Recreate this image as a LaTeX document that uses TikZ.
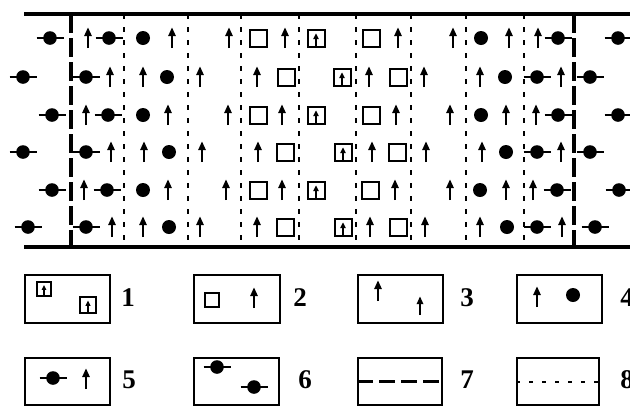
\documentclass[tikz,border=0pt]{standalone}
\usepackage{fontspec}
\setmainfont{Liberation Serif}
\begin{document}
\begin{tikzpicture}[x=1pt,y=-1pt,
  pics/uarr/.style={code={
    \draw[line width=2.3pt] (0,10) -- (0,-3);
    \fill (-3.9,-2) -- (3.9,-2) -- (0,-10.5) -- cycle;}},
  pics/pball/.style={code={\fill (0,0) circle (7pt);}},
  pics/pdumb/.style={code={
    \draw[line width=2pt] (-13.5,0) -- (13.5,0);
    \fill (0,0) circle (6.8pt);}},
  pics/psq/.style={code={\draw[line width=2pt] (-8.5,-8.5) rectangle (8.5,8.5);}},
  pics/psqa/.style={code={
    \draw[line width=2pt] (-8.5,-8.5) rectangle (8.5,8.5);
    \draw[line width=1.5pt] (0,8.5) -- (0,0);
    \fill (-2.8,1) -- (2.8,1) -- (0,-4.5) -- cycle;}},
  wall/.style={line width=4pt},
  thickdash/.style={line width=3.3pt, dash pattern=on 19pt off 5pt},
  thindot/.style={line width=2.6pt, dash pattern=on 5pt off 8pt},
  legbox/.style={draw, line width=2pt},
  leglabel/.style={font=\bfseries\fontsize{27}{27}\selectfont, anchor=center}
]
\useasboundingbox (0,0) rectangle (630,408);
\clip (0,0) rectangle (630,408);
\fill[white] (0,0) rectangle (630,408);

% walls
\draw[wall] (24,14) -- (632,14);
\draw[wall] (24,247) -- (632,247);
% boundaries
\draw[thickdash] (71,14) -- (71,247);
\draw[thickdash] (574,14) -- (574,247);
\foreach \x in {124,188,241,299,356,411,466,524}
  \draw[thindot] (\x,14) -- (\x,247);

% row 1 (y=38)
\foreach \t/\x in {pdumb/50,uarr/88,pdumb/109,pball/143,uarr/172,uarr/229,psq/258,uarr/285,psqa/316,psq/371,uarr/398,uarr/453,pball/481,uarr/509,uarr/538,pdumb/558,pdumb/618}
  \pic at (\x,38) {\t};
% row 2 (y=77)
\foreach \t/\x in {pdumb/23,pdumb/86,uarr/110,uarr/143,pball/167,uarr/200,uarr/257,psq/286,psqa/342,uarr/369,psq/398,uarr/424,uarr/480,pball/505,pdumb/537,uarr/561,pdumb/590}
  \pic at (\x,77) {\t};
% row 3 (y=115)
\foreach \t/\x in {pdumb/52,uarr/86,pdumb/108,pball/143,uarr/168,uarr/228,psq/258,uarr/282,psqa/316,psq/371,uarr/396,uarr/450,pball/481,uarr/506,uarr/536,pdumb/558,pdumb/618}
  \pic at (\x,115) {\t};
% row 4 (y=152)
\foreach \t/\x in {pdumb/23,pdumb/86,uarr/111,uarr/144,pball/169,uarr/202,uarr/258,psq/285,psqa/343,uarr/372,psq/397,uarr/426,uarr/482,pball/506,pdumb/537,uarr/561,pdumb/590}
  \pic at (\x,152) {\t};
% row 5 (y=190)
\foreach \t/\x in {pdumb/52,uarr/84,pdumb/107,pball/143,uarr/168,uarr/226,psq/258,uarr/282,psqa/316,psq/370,uarr/395,uarr/450,pball/480,uarr/506,uarr/533,pdumb/557,pdumb/619}
  \pic at (\x,190) {\t};
% row 6 (y=227)
\foreach \t/\x in {pdumb/28,pdumb/86,uarr/112,uarr/143,pball/169,uarr/200,uarr/257,psq/285,psqa/343,uarr/370,psq/398,uarr/425,uarr/480,pball/507,pdumb/537,uarr/562,pdumb/595}
  \pic at (\x,227) {\t};

% legend row 1
\node[legbox, minimum width=85pt, minimum height=48pt, anchor=north west, inner sep=0pt] (L1) at (24,274) {};
\pic[scale=0.85] at (44,289) {psqa};
\pic[scale=0.95] at (88,305) {psqa};
\node[leglabel] (N1) at (128,298) {1};

\node[legbox, minimum width=86pt, minimum height=48pt, anchor=north west, inner sep=0pt] (L2) at (193,274) {};
\pic[scale=0.82] at (212,300) {psq};
\pic at (254,298) {uarr};
\node[leglabel] (N2) at (300,298) {2};

\node[legbox, minimum width=85pt, minimum height=48pt, anchor=north west, inner sep=0pt] (L3) at (357,274) {};
\pic at (378,291) {uarr};
\pic[scale=0.9] at (420,306) {uarr};
\node[leglabel] (N3) at (467,298) {3};

\node[legbox, minimum width=85pt, minimum height=48pt, anchor=north west, inner sep=0pt] (L4) at (516,274) {};
\pic at (537,297) {uarr};
\pic at (573,295) {pball};
\node[leglabel] (N4) at (627,298) {4};

% legend row 2
\node[legbox, minimum width=85pt, minimum height=47pt, anchor=north west, inner sep=0pt] (L5) at (24,357) {};
\pic at (53,378) {pdumb};
\pic at (86,379) {uarr};
\node[leglabel] (N5) at (129,380) {5};

\node[legbox, minimum width=85pt, minimum height=47pt, anchor=north west, inner sep=0pt] (L6) at (193,357) {};
\pic at (217,367) {pdumb};
\pic at (254,387) {pdumb};
\node[leglabel] (N6) at (305,380) {6};

\node[legbox, minimum width=84pt, minimum height=47pt, anchor=north west, inner sep=0pt] (L7) at (357,357) {};
\draw[line width=3.5pt, dash pattern=on 16pt off 6pt] (L7.west) -- (L7.east);
\node[leglabel] (N7) at (467,380) {7};

\node[legbox, minimum width=82pt, minimum height=47pt, anchor=north west, inner sep=0pt] (L8) at (516,357) {};
\draw[line width=2pt, dash pattern=on 4pt off 9pt] (L8.west) -- (L8.east);
\node[leglabel] (N8) at (627,380) {8};
\end{tikzpicture}
\end{document}
